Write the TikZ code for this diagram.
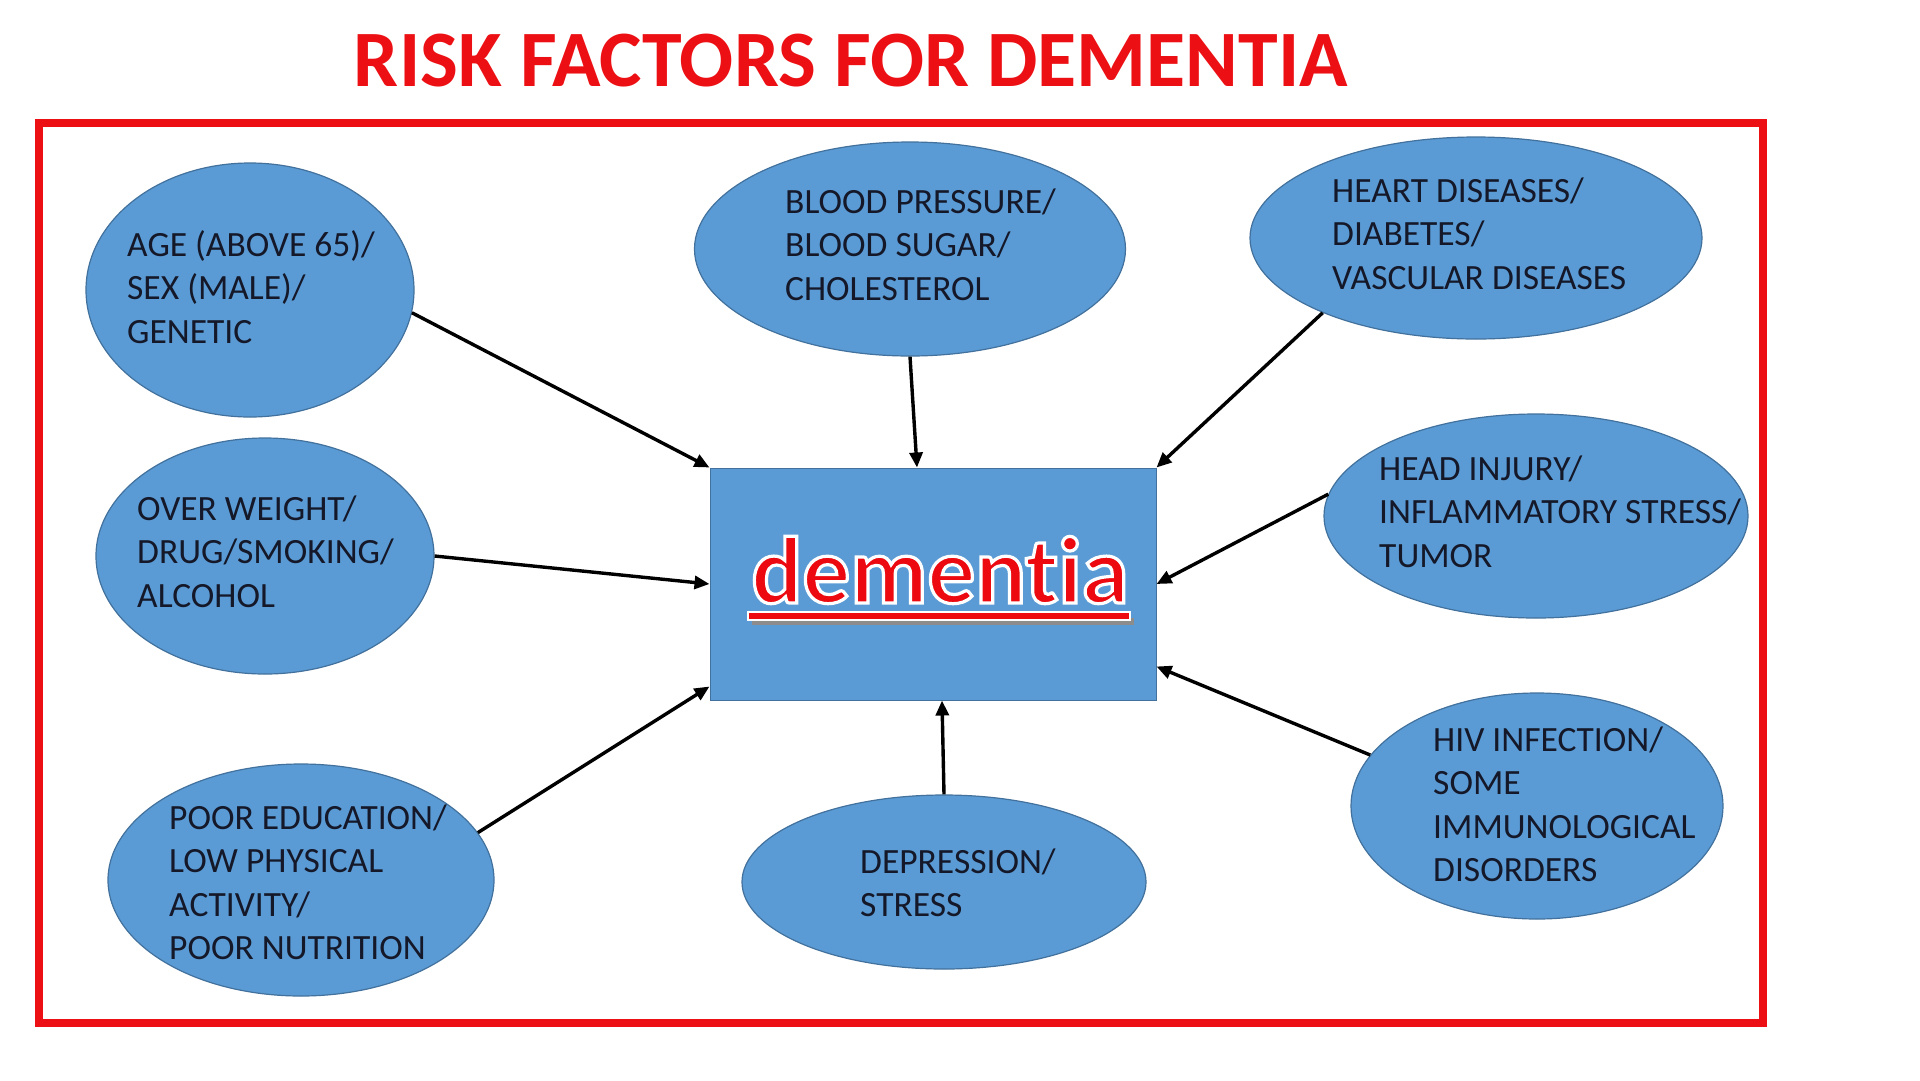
\documentclass[tikz,border=0pt]{standalone}
\usepackage{fontspec}
\setmainfont{Carlito}
\usetikzlibrary{shapes.geometric,arrows.meta,calc}
\definecolor{fillblue}{HTML}{5B9BD5}
\definecolor{edgeblue}{HTML}{41719C}
\definecolor{titlered}{RGB}{236,16,20}
\definecolor{demred}{RGB}{236,10,16}
\definecolor{txt}{HTML}{141828}
\newcommand{\outlinedword}[1]{%
  {\color{demred}\special{pdf:literal direct 2 Tr 1 1 1 RG 3.2 w}#1\special{pdf:literal direct 0 Tr}}}
\begin{document}
\begin{tikzpicture}[x=1pt,y=-1pt,
  bubble/.style={ellipse, fill=fillblue, draw=edgeblue, line width=1.2pt, inner sep=0pt},
  lbl/.style={anchor=base west, inner sep=0pt, align=left, text=txt, font=\fontsize{35.5}{43.5}\selectfont},
  arr/.style={line width=3.4pt, -{Triangle[length=15pt,width=13pt]}}]
\useasboundingbox (0,0) rectangle (1920,1080);
\fill[white] (0,0) rectangle (1920,1080);

% title
\node[anchor=base, inner sep=0pt, text=titlered, font=\fontsize{80}{84}\selectfont\bfseries] (title) at (851,86) {RISK FACTORS FOR DEMENTIA};

% frame
\draw[titlered, line width=8pt] (39,123) rectangle (1763,1023);

% central box
\node[rectangle, fill=fillblue, draw=edgeblue, line width=1pt, minimum width=446pt, minimum height=232pt, inner sep=0pt] (dem) at (933,584) {};

% bubbles
\node[bubble, minimum width=328pt, minimum height=254pt] (age) at (250,290) {};
\node[bubble, minimum width=431pt, minimum height=214pt] (bp) at (910,249) {};
\node[bubble, minimum width=452pt, minimum height=202pt] (heart) at (1476,238) {};
\node[bubble, minimum width=338pt, minimum height=236pt] (ow) at (265,556) {};
\node[bubble, minimum width=424pt, minimum height=204pt] (head) at (1536,516) {};
\node[bubble, minimum width=386pt, minimum height=232pt] (poor) at (301,880) {};
\node[bubble, minimum width=404pt, minimum height=174pt] (dep) at (944,882) {};
\node[bubble, minimum width=372pt, minimum height=226pt] (hiv) at (1537,806) {};

% labels (anchor at baseline of last line)
\node[lbl] (agel) at (127,343) {AGE (ABOVE 65)/\\SEX (MALE)/\\GENETIC};
\node[lbl] (bpl) at (785,300) {BLOOD PRESSURE/\\BLOOD SUGAR/\\CHOLESTEROL};
\node[lbl] (heartl) at (1332,289) {HEART DISEASES/\\DIABETES/\\VASCULAR DISEASES};
\node[lbl] (owl) at (137,607) {OVER WEIGHT/\\DRUG/SMOKING/\\ALCOHOL};
\node[lbl] (headl) at (1379,567) {HEAD INJURY/\\INFLAMMATORY STRESS/\\TUMOR};
\node[lbl] (poorl) at (169,959.5) {POOR EDUCATION/\\LOW PHYSICAL\\ACTIVITY/\\POOR NUTRITION};
\node[lbl] (depl) at (860,916.5) {DEPRESSION/\\STRESS};
\node[lbl] (hivl) at (1433,881.5) {HIV INFECTION/\\SOME\\IMMUNOLOGICAL\\DISORDERS};

% arrows
\draw[arr] (age.-8) -- (dem.north west);
\draw[arr] (bp.south) -- ([xshift=-16pt]dem.north);
\draw[arr] (heart.206) -- (dem.north east);
\draw[arr] (ow.east) -- (dem.west);
\draw[arr] (head.174) -- (dem.east);
\draw[arr] (poor.15) -- ([yshift=14pt]dem.south west);
\draw[arr] (dep.north) -- ([xshift=9pt]dem.south);
\draw[arr] (hiv.163) -- ([yshift=34pt]dem.south east);

% central word with underline
\fill[black!45] (752,618) rectangle (1134,625);
\fill[white] (747,611) rectangle (1131,621);
\fill[demred] (749,613) rectangle (1129,619);
\node[anchor=base, inner sep=0pt, font=\fontsize{95}{96}\selectfont\bfseries] (dtext) at (940,603) {\outlinedword{dement\kern0pt ia}};
\end{tikzpicture}
\end{document}
